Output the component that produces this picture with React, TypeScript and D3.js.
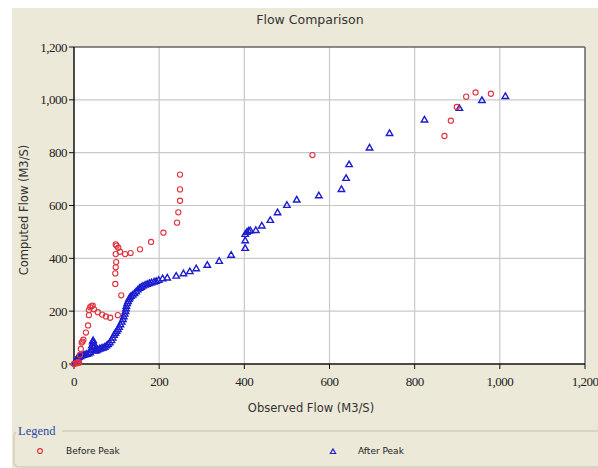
import React from "react";
import * as d3 from "d3";

const xTicks = [0, 200, 400, 600, 800, 1000, 1200];
const yTicks = [0, 200, 400, 600, 800, 1000, 1200];

const beforePeakX = [0, 5, 8, 10, 12, 14, 16, 18, 20, 22, 28, 33, 35, 35, 38, 41, 44, 47, 56, 66, 75, 85, 97, 97, 98, 99, 98, 98, 100, 104, 103, 108, 111, 120, 133, 155, 181, 210, 242, 245, 249, 249, 249, 560, 870, 885, 899, 921, 943, 979];
const beforePeakY = [0, 2, 4, 8, 5, 34, 57, 81, 85, 92, 119, 146, 185, 204, 215, 219, 221, 207, 196, 187, 180, 175, 303, 343, 366, 386, 416, 453, 448, 440, 185, 425, 260, 416, 420, 434, 462, 497, 535, 574, 618, 661, 717, 791, 863, 921, 973, 1012, 1028, 1023];

const afterPeakX = [2, 4, 6, 8, 10, 12, 15, 18, 22, 26, 30, 34, 38, 40, 42, 44, 45, 46, 47, 48, 50, 53, 56, 60, 64, 68, 72, 76, 80, 84, 88, 91, 94, 97, 100, 103, 106, 109, 112, 115, 117, 119, 121, 122, 123, 125, 127, 129, 131, 134, 138, 142, 146, 150, 154, 158, 162, 167, 172, 177, 182, 188, 193, 199, 208, 219, 240, 257, 272, 287, 313, 341, 369, 402, 402, 402, 406, 410, 414, 427, 441, 461, 478, 500, 523, 575, 628, 639, 646, 694, 741, 823, 905, 958, 1013];
const afterPeakY = [5, 12, 18, 22, 26, 28, 30, 32, 34, 36, 38, 40, 44, 55, 70, 85, 90, 80, 65, 52, 50, 52, 55, 58, 60, 62, 65, 70, 75, 82, 90, 100, 110, 118, 125, 132, 140, 150, 160, 170, 180, 190, 200, 210, 220, 230, 238, 246, 252, 258, 262, 268, 275, 282, 288, 292, 296, 300, 303, 306, 309, 312, 314, 318, 324, 327, 334, 343, 351, 362, 375, 390, 413, 439, 468, 492, 500, 505, 506, 507, 524, 545, 574, 602, 622, 638, 662, 704, 756, 819, 874, 925, 969, 999, 1014];

const W = 598;
const H = 468;
const left = 74, right = 585, top = 47, bottom = 364;

export default function App() {
  const x = d3.scaleLinear().domain([0, 1200]).range([left, right]);
  const y = d3.scaleLinear().domain([0, 1200]).range([bottom, top]);
  const fmt = d3.format(",");
  const tri = d3.symbol().type(d3.symbolTriangle).size(18)() as string;
  const red = "#e0323c";
  const blue = "#1c1cd0";
  const tickFont = "'Liberation Serif', 'DejaVu Serif', serif";
  const sans = "'DejaVu Sans', Verdana, sans-serif";

  return (
    <div style={{ position: "absolute", left: 0, top: 0 }}>
      <svg width={W} height={H} style={{ display: "block" }}>
        <rect x={0} y={0} width={W} height={H} fill="#ffffff" />
        <rect x={12} y={8} width={W - 12} height={H - 8} fill="#ECE9D8" />
        <text x={310} y={24} textAnchor="middle" fontFamily={sans} fontSize={12.5} fill="#333">
          Flow Comparison
        </text>
        <rect x={left} y={top} width={right - left} height={bottom - top} fill="#fff" />
        {xTicks.slice(1, -1).map((t) => (
          <line key={"gx" + t} x1={x(t)} x2={x(t)} y1={top} y2={bottom} stroke="#c9c9c9" strokeWidth={1.2} />
        ))}
        {yTicks.slice(1, -1).map((t) => (
          <line key={"gy" + t} x1={left} x2={right} y1={y(t)} y2={y(t)} stroke="#c9c9c9" strokeWidth={1.2} />
        ))}
        <line x1={left} x2={right} y1={top} y2={top} stroke="#666" strokeWidth={1.5} />
        <line x1={right} x2={right} y1={top} y2={bottom} stroke="#666" strokeWidth={1.5} />
        <line x1={left} x2={left} y1={top} y2={bottom} stroke="#111" strokeWidth={1.5} />
        <line x1={left} x2={right} y1={bottom} y2={bottom} stroke="#111" strokeWidth={1.5} />
        {yTicks.map((t) => (
          <g key={"yt" + t}>
            <line x1={left - 5} x2={left} y1={y(t)} y2={y(t)} stroke="#111" />
            <text x={left - 7} y={y(t)} dy="0.35em" textAnchor="end" fontFamily={tickFont} fontSize={13} fill="#222" letterSpacing={-0.5}>
              {fmt(t)}
            </text>
          </g>
        ))}
        {xTicks.map((t) => (
          <g key={"xt" + t}>
            <line x1={x(t)} x2={x(t)} y1={bottom} y2={bottom + 5} stroke="#111" />
            <text x={x(t)} y={381} dy="0.35em" textAnchor="middle" fontFamily={tickFont} fontSize={13} fill="#222" letterSpacing={-0.5}>
              {fmt(t)}
            </text>
          </g>
        ))}
        <text x={311} y={412} textAnchor="middle" fontFamily={sans} fontSize={11.5} fill="#333">
          Observed Flow (M3/S)
        </text>
        <text transform={`translate(28,210) rotate(-90)`} textAnchor="middle" fontFamily={sans} fontSize={11.5} fill="#333">
          Computed Flow (M3/S)
        </text>
        <g>
          {afterPeakX.map((v, i) => (
            <path key={"b" + i} d={tri} transform={`translate(${x(v)},${y(afterPeakY[i]) + 0.5})`} fill="none" stroke={blue} strokeWidth={1.4} />
          ))}
        </g>
        <g>
          {beforePeakX.map((v, i) => (
            <circle key={"r" + i} cx={x(v)} cy={y(beforePeakY[i])} r={2.6} fill="none" stroke={red} strokeWidth={1.1} />
          ))}
        </g>
        <rect x={14} y={431} width={620} height={36} rx={5} fill="none" stroke="#d2ceba" strokeWidth={1.5} />
        <rect x={16} y={424} width={46} height={12} fill="#ECE9D8" />
        <text x={18} y={435} fontFamily={tickFont} fontSize={12.5} fill="#2a4aa8">
          Legend
        </text>
        <circle cx={40} cy={451} r={2.4} fill="none" stroke={red} strokeWidth={1.1} />
        <text x={66} y={454} fontFamily={sans} fontSize={9} fill="#222">
          Before Peak
        </text>
        <path d={d3.symbol().type(d3.symbolTriangle).size(12)() as string} transform="translate(333,452)" fill="none" stroke={blue} strokeWidth={1.2} />
        <text x={358} y={454} fontFamily={sans} fontSize={9} fill="#222">
          After Peak
        </text>
      </svg>
    </div>
  );
}
